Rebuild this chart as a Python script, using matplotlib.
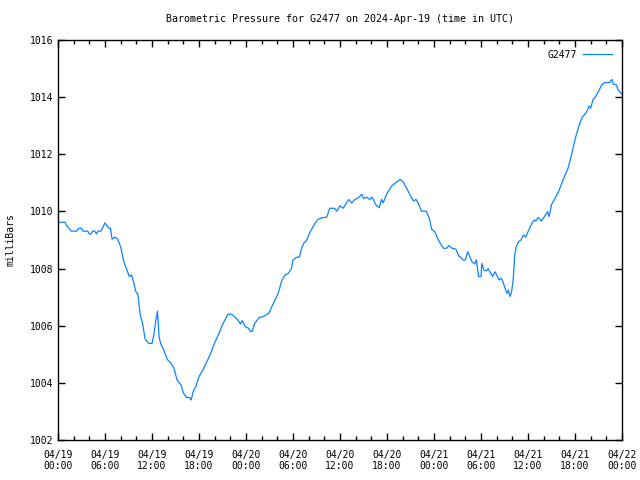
import numpy as np
import matplotlib
matplotlib.use("Agg")
import matplotlib.pyplot as plt
import matplotlib.dates as mdates
from matplotlib.ticker import MultipleLocator

# hours since 2024-04-19 00:00 UTC
hours = [0.0, 0.9, 1.1, 1.7, 2.4, 2.6, 3.0, 3.2, 3.8, 4.0, 4.2, 4.4, 4.7, 4.9, 5.1, 5.5,
         6.0, 6.5, 6.7, 6.9, 7.3, 7.6, 8.0, 8.4, 8.8, 9.1, 9.4, 9.7, 9.9, 10.2, 10.5, 10.8,
         11.1, 11.3, 11.6, 12.0, 12.2, 12.5, 12.7, 12.9, 13.1, 13.5, 14.0, 14.4, 14.8, 15.2,
         15.7, 16.0, 16.4, 16.8, 17.0, 17.3, 17.6, 18.0, 18.5, 18.9, 19.4, 20.0, 20.5, 20.9,
         21.3, 21.7, 22.2, 22.6, 23.0, 23.3, 23.5, 23.9, 24.3, 24.6, 24.8, 25.1, 25.7, 26.2,
         26.9, 27.3, 27.7, 28.1, 28.6, 29.0, 29.4, 29.8, 30.0, 30.5, 30.8, 31.1, 31.4, 31.7,
         32.2, 32.8, 33.2, 33.7, 34.3, 34.7, 35.3, 35.6, 36.0, 36.4, 37.1, 37.5, 37.9, 38.3,
         38.8, 39.0, 39.4, 39.8, 40.1, 40.6, 41.0, 41.3, 41.5, 42.0, 42.6, 43.2, 43.7, 44.1,
         44.5, 45.1, 45.4, 45.7, 46.0, 46.4, 47.0, 47.4, 47.7, 48.1, 48.5, 49.0, 49.2, 49.6,
         49.9, 50.3, 50.8, 51.2, 51.4, 51.7, 52.0, 52.3, 52.6, 52.8, 53.2, 53.4, 53.7, 54.0,
         54.1, 54.4, 54.7, 54.9, 55.1, 55.5, 55.8, 56.1, 56.3, 56.6, 56.8, 57.1, 57.3, 57.5,
         57.7, 57.9, 58.1, 58.2, 58.3, 58.5, 58.8, 59.1, 59.4, 59.7, 60.0, 60.5, 60.8, 61.0,
         61.3, 61.7, 62.2, 62.5, 62.7, 63.0, 63.4, 63.9, 64.3, 64.7, 65.1, 65.5, 65.8, 66.1,
         66.5, 66.9, 67.3, 67.6, 67.8, 68.0, 68.3, 68.6, 68.9, 69.2, 69.4, 69.8, 70.4, 70.7,
         70.9, 71.3, 71.5, 71.7, 72.0]

pressure = [1009.62, 1009.62, 1009.50, 1009.31, 1009.31, 1009.41, 1009.41, 1009.31, 1009.31,
            1009.21, 1009.21, 1009.31, 1009.31, 1009.21, 1009.31, 1009.31,
            1009.60, 1009.41, 1009.41, 1009.03, 1009.10, 1009.03, 1008.77, 1008.24, 1007.95,
            1007.72, 1007.78, 1007.48, 1007.21, 1007.10, 1006.37, 1006.08,
            1005.56, 1005.47, 1005.38, 1005.38, 1005.62, 1006.20, 1006.51, 1005.62, 1005.38,
            1005.15, 1004.80, 1004.70, 1004.51, 1004.10,
            1003.93, 1003.65, 1003.49, 1003.49, 1003.40, 1003.73, 1003.87, 1004.22, 1004.45,
            1004.68, 1004.97, 1005.40, 1005.70, 1005.97,
            1006.20, 1006.40, 1006.40, 1006.30, 1006.18, 1006.06, 1006.18, 1005.97, 1005.91,
            1005.79, 1005.81, 1006.08, 1006.29, 1006.32,
            1006.43, 1006.67, 1006.90, 1007.13, 1007.60, 1007.78, 1007.83, 1008.00, 1008.30,
            1008.40, 1008.40, 1008.71, 1008.90, 1008.97,
            1009.29, 1009.58, 1009.72, 1009.78, 1009.80, 1010.11, 1010.11, 1010.01, 1010.20,
            1010.11, 1010.42, 1010.30, 1010.42, 1010.47,
            1010.60, 1010.45, 1010.50, 1010.42, 1010.50, 1010.22, 1010.13, 1010.42, 1010.30,
            1010.63, 1010.89, 1011.02, 1011.12, 1011.02,
            1010.81, 1010.50, 1010.36, 1010.42, 1010.28, 1010.01, 1010.01, 1009.76, 1009.37,
            1009.29, 1009.03, 1008.79, 1008.71, 1008.71,
            1008.81, 1008.71, 1008.68, 1008.42, 1008.40, 1008.30, 1008.30, 1008.59, 1008.40,
            1008.26, 1008.16, 1008.30, 1007.72, 1007.72,
            1008.18, 1007.93, 1007.93, 1008.00, 1007.90, 1007.72, 1007.89, 1007.72, 1007.60,
            1007.66, 1007.54, 1007.30, 1007.13, 1007.25,
            1007.02, 1007.18, 1007.60, 1008.00, 1008.47, 1008.77, 1008.94, 1009.00, 1009.17,
            1009.10, 1009.29, 1009.58, 1009.70, 1009.66,
            1009.79, 1009.66, 1009.86, 1009.99, 1009.82, 1010.24, 1010.43, 1010.69, 1010.98,
            1011.26, 1011.50, 1011.92, 1012.27, 1012.62,
            1012.99, 1013.29, 1013.41, 1013.55, 1013.69, 1013.61, 1013.92, 1014.00, 1014.16,
            1014.31, 1014.43, 1014.51, 1014.51, 1014.62,
            1014.45, 1014.43, 1014.25, 1014.19, 1014.10]

station = "G2477"
start = np.datetime64("2024-04-19T00:00")
end = np.datetime64("2024-04-22T00:00")

times = start + (np.array(hours) * 60).round().astype("timedelta64[m]")

plt.rcParams['font.family'] = ['DejaVu Sans Mono']
plt.rcParams['font.size'] = 7

fig = plt.figure(figsize=(6.4, 4.8), dpi=100)
ax = fig.add_axes([58/640, 1 - 440/480, 564/640, 400/480])

ax.plot(times, pressure, color='#0a84ff', linewidth=0.9, label=station)

ax.set_xlim(start, end)
ax.set_ylim(1002, 1016)
ax.yaxis.set_major_locator(MultipleLocator(2))
ax.yaxis.set_major_formatter(matplotlib.ticker.FormatStrFormatter('%d'))
ax.xaxis.set_major_locator(mdates.HourLocator(byhour=[0, 6, 12, 18]))
ax.xaxis.set_minor_locator(mdates.HourLocator(byhour=range(0, 24, 2)))
ax.xaxis.set_major_formatter(mdates.DateFormatter('%m/%d\n%H:%M'))

ax.tick_params(which='both', direction='in', top=True, right=True, colors='black', labelsize=7)
ax.tick_params(which='major', length=5, width=1)
ax.tick_params(which='minor', length=3, width=1)
ax.tick_params(axis='x', pad=7)
for s in ax.spines.values():
    s.set_linewidth(1)

ax.set_title("Barometric Pressure for G2477 on 2024-Apr-19 (time in UTC)", fontsize=7.2, pad=13)
ax.set_ylabel("milliBars", fontsize=7, labelpad=10)

leg = ax.legend(loc='upper right', frameon=False, fontsize=7, markerfirst=False,
                handlelength=3, borderaxespad=0.6, handletextpad=0.6)

fig.savefig("out.png", dpi=100)
